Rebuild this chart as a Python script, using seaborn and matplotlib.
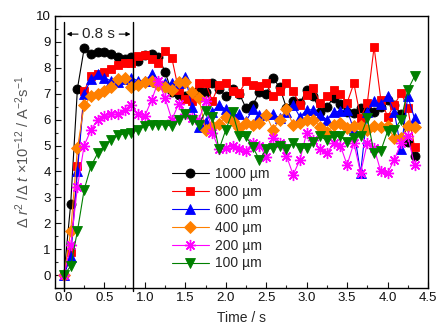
import numpy as np
import pandas as pd
import matplotlib
matplotlib.use("Agg")
import matplotlib.pyplot as plt
import seaborn as sns

# ---- data ----
n_pts = 53
time_s = [i / 12 for i in range(n_pts)]

s1000 = [0, 2.75, 7.2, 8.75, 8.55, 8.6, 8.6, 8.55, 8.4, 8.35, 8.4, 8.25, 8.5, 8.55, 8.4, 7.85,
         7.05, 6.95, 6.9, 7.0, 7.15, 7.05, 7.4, 7.2, 6.9, 7.2, 7.0, 6.45, 6.57, 7.05, 7.0, 7.6,
         7.25, 6.45, 6.7, 6.63, 7.15, 6.9, 6.3, 6.5, 6.85, 6.6, 6.3, 6.27, 6.45, 6.4, 6.3, 6.5,
         6.77, 6.55, 6.2, 5.15, 4.6]
s800 = [0, 0.9, 4.2, 7.1, 7.7, 7.75, 7.85, 7.95, 8.1, 8.2, 8.2, 8.45, 8.5, 8.35, 8.2, 8.65,
        8.38, 7.15, 6.8, 6.7, 7.4, 7.4, 6.73, 7.35, 7.4, 7.1, 7.04, 7.48, 7.35, 7.28, 7.4, 6.9,
        7.1, 7.4, 7.1, 6.57, 6.96, 7.22, 6.65, 6.9, 7.15, 7.0, 6.65, 7.4, 6.07, 6.65, 8.8, 6.77,
        6.12, 6.57, 7.03, 6.45, 4.93]
s600 = [0, 0.7, 4.0, 7.0, 7.55, 7.75, 7.6, 7.5, 7.45, 7.55, 7.6, 7.5, 7.5, 7.75, 7.45, 7.4,
        7.4, 7.4, 7.65, 6.5, 5.7, 5.9, 6.3, 6.57, 6.4, 6.2, 6.2, 5.93, 6.4, 6.19, 6.2, 6.2,
        6.07, 6.3, 6.57, 6.1, 6.38, 6.38, 6.19, 6.0, 6.3, 6.32, 6.38, 5.6, 3.94, 6.3, 6.7, 6.6,
        6.9, 6.3, 4.85, 6.9, 6.05]
s400 = [0, 1.7, 4.9, 6.55, 6.9, 7.0, 7.1, 7.25, 7.55, 7.6, 7.25, 7.35, 7.45, 7.5, 7.35, 7.25,
        7.15, 7.45, 7.45, 7.05, 6.85, 5.6, 5.75, 5.85, 6.1, 5.93, 5.68, 5.87, 5.8, 5.87, 6.19, 5.6,
        6.0, 6.4, 5.8, 5.87, 6.0, 6.0, 5.73, 5.54, 5.8, 5.87, 5.68, 5.75, 5.75, 5.6, 5.75, 5.7,
        5.75, 5.28, 5.28, 5.75, 5.7]
s200 = [0, 1.15, 3.4, 5.0, 5.6, 6.0, 6.15, 6.2, 6.2, 6.38, 6.55, 6.2, 6.15, 6.75, 7.48, 6.83,
        6.0, 6.6, 6.2, 6.05, 6.0, 6.7, 5.5, 4.85, 4.9, 5.0, 4.85, 4.8, 5.1, 5.0, 4.57, 5.3,
        5.1, 4.6, 3.87, 4.45, 5.49, 5.2, 4.85, 4.7, 5.1, 5.0, 4.25, 5.1, 3.94, 5.1, 4.9, 4.0,
        3.94, 4.45, 5.1, 5.35, 4.25]
s100 = [0, 0.35, 1.7, 3.3, 4.2, 4.7, 5.0, 5.2, 5.4, 5.45, 5.5, 5.6, 5.75, 5.8, 5.8, 5.8,
        5.75, 6.0, 6.2, 5.98, 5.8, 6.32, 6.12, 4.85, 5.6, 6.3, 5.35, 5.35, 4.95, 4.45, 4.85, 4.9,
        5.0, 4.85, 5.1, 4.9, 4.9, 5.15, 5.35, 5.2, 5.35, 5.35, 5.15, 5.3, 5.35, 6.06, 4.7, 4.8,
        5.55, 5.6, 6.0, 7.15, 7.67]

series_labels = ["1000 µm", "800 µm", "600 µm", "400 µm", "200 µm", "100 µm"]
series_values = [s1000, s800, s600, s400, s200, s100]

x_ticks = [0.0, 0.5, 1.0, 1.5, 2.0, 2.5, 3.0, 3.5, 4.0, 4.5]
y_ticks = list(range(0, 11))
interval_start, interval_end = 0.0, 0.857
interval_label = "0.8 s"

# ---- style ----
colors = ["#000000", "#ff0000", "#0000ff", "#ff8000", "#ff00ff", "#008000"]
markers = ["o", "s", "^", "D", (8, 2, 0), "v"]
msizes = [6.5, 6.3, 7, 6, 8, 7]

sns.set_theme(style="ticks")
plt.rcParams["font.family"] = ["Liberation Sans", "DejaVu Sans"]
plt.rcParams["mathtext.fontset"] = "custom"
plt.rcParams["mathtext.rm"] = "Liberation Sans"
plt.rcParams["mathtext.it"] = "Liberation Sans:italic"
plt.rcParams["xtick.direction"] = "in"
plt.rcParams["ytick.direction"] = "in"

fig = plt.figure(figsize=(4.44, 3.33), dpi=100)
ax = fig.add_axes([0.124, 0.135, 0.840, 0.817])

for lab, vals, c, m, ms in zip(series_labels, series_values, colors, markers, msizes):
    df = pd.DataFrame({"t": time_s, "v": vals})
    filled = not isinstance(m, tuple)
    sns.lineplot(data=df, x="t", y="v", ax=ax, color=c, marker=m, markersize=ms,
                 linewidth=0.8, label=lab,
                 markeredgecolor=c, markerfacecolor=c if filled else "none",
                 markeredgewidth=0.6 if filled else 1.0)

ax.set_xlim(-0.11, 4.5)
ax.set_ylim(-0.5, 10)
ax.set_xticks(x_ticks)
ax.set_xticklabels([f"{v:.1f}" for v in x_ticks])
ax.set_yticks(y_ticks)
ax.xaxis.set_minor_locator(matplotlib.ticker.MultipleLocator(0.25))
ax.yaxis.set_minor_locator(matplotlib.ticker.MultipleLocator(0.5))
ax.tick_params(which="major", length=4, width=0.8, labelsize=9.5, colors="#111111", pad=3)
ax.tick_params(which="minor", length=2.5, width=0.8)
for sp in ax.spines.values():
    sp.set_linewidth(1.0)
    sp.set_color("black")

ax.set_xlabel("Time / s", fontsize=10, labelpad=5)
ax.set_ylabel("\u0394 $\\it{r}$$^{2}$ /\u0394 $\\it{t}$ ×10$^{-12}$ / A$^{-2}$s$^{-1}$",
              fontsize=10.5, color="#555555", labelpad=3)

# interval markers
for xv in (interval_start, interval_end):
    ax.plot([xv, xv], [-0.6, 9.75], color="black", lw=1.0, clip_on=False, zorder=5)
mid = (interval_start + interval_end) / 2
ax.text(mid, 9.3, interval_label, ha="center", va="center", fontsize=11)
ax.annotate("", xy=(interval_start, 9.3), xytext=(mid - 0.22, 9.3),
            arrowprops=dict(arrowstyle="-|>", color="black", lw=0.8, mutation_scale=6))
ax.annotate("", xy=(interval_end, 9.3), xytext=(mid + 0.22, 9.3),
            arrowprops=dict(arrowstyle="-|>", color="black", lw=0.8, mutation_scale=6))

leg = ax.legend(loc="upper left", bbox_to_anchor=(0.305, 0.455), frameon=False,
                fontsize=10, handlelength=2.7, handletextpad=0.4, labelspacing=0.28,
                borderaxespad=0, borderpad=0.2)

fig.savefig("out.png", dpi=100)
